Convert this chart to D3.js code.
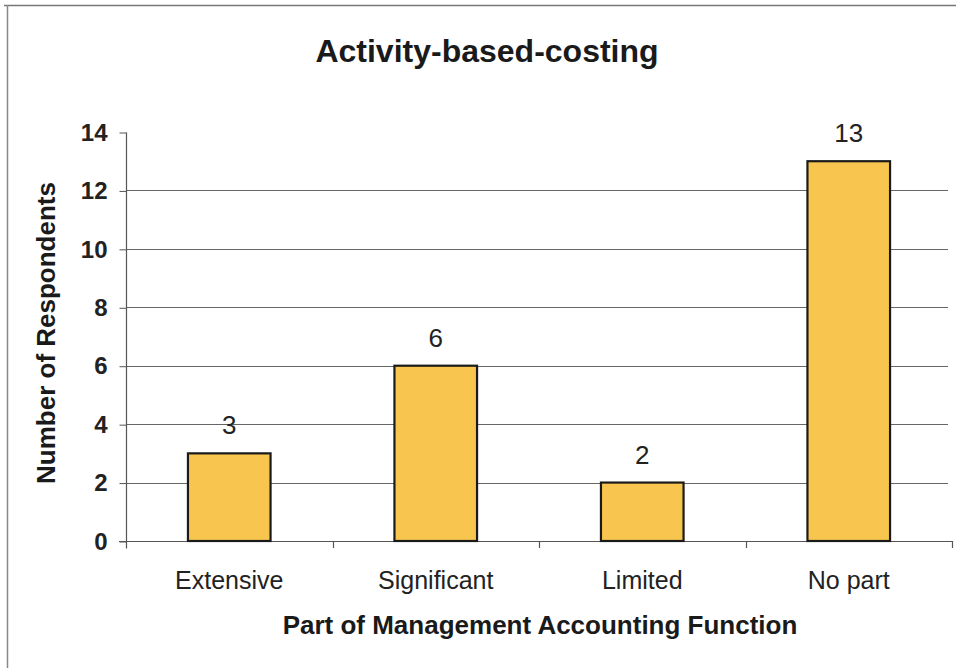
<!DOCTYPE html>
<html>
<head>
<meta charset="utf-8">
<script src="https://cdn.jsdelivr.net/npm/d3@7"></script>
<style>
  html, body { margin: 0; padding: 0; background: #fff; }
  svg { display: block; font-family: "Liberation Sans", Arial, sans-serif; }
</style>
</head>
<body>
<svg id="chart" width="963" height="668"></svg>
<script>
// Survey responses: role of activity-based costing
const categories = ["Extensive", "Significant", "Limited", "No part"];
const respondents = [3, 6, 2, 13];
const yTicks = [0, 2, 4, 6, 8, 10, 12, 14];
const gridValues = [2, 4, 6, 8, 10, 12];

const svg = d3.select("#chart");
const W = 963, H = 668;
const plot = { left: 126, right: 952, top: 132, bottom: 541 };

// frame (top and left edges)
svg.append("line").attr("x1", 4).attr("x2", 956).attr("y1", 5.5).attr("y2", 5.5)
  .attr("stroke", "#777").attr("stroke-width", 1.5);
svg.append("line").attr("x1", 7.5).attr("x2", 7.5).attr("y1", 5).attr("y2", H)
  .attr("stroke", "#888").attr("stroke-width", 1.5);

const x = d3.scaleBand().domain(categories).range([plot.left, plot.right])
  .paddingInner(0.6).paddingOuter(0.3);
const xEdge = d3.scaleLinear().domain([0, categories.length]).range([plot.left, plot.right]);
const y = d3.scaleLinear().domain([0, 14]).range([plot.bottom, plot.top]);

// horizontal gridlines
svg.append("g").selectAll("line").data(gridValues).join("line")
  .attr("x1", plot.left).attr("x2", plot.right - 4)
  .attr("y1", d => Math.round(y(d)) + 0.5).attr("y2", d => Math.round(y(d)) + 0.5)
  .attr("stroke", "#666").attr("stroke-width", 1);

// y axis
const yAxis = d3.axisLeft(y).tickValues(yTicks).tickSize(7).tickPadding(12).tickFormat(d3.format("d"));
const gy = svg.append("g").attr("transform", `translate(${plot.left + 0.5},0.5)`).call(yAxis);
gy.select(".domain").attr("d", `M0,${plot.top}V${plot.bottom + 7}`).attr("stroke", "#555").attr("stroke-width", 1.2);
gy.selectAll(".tick line").attr("stroke", "#555");
gy.selectAll(".tick text").attr("font-size", 24).attr("font-weight", "bold")
  .attr("font-family", "Liberation Sans, Arial, sans-serif").attr("fill", "#222");

// x axis line with ticks at category boundaries
svg.append("line").attr("x1", plot.left - 7).attr("x2", plot.right)
  .attr("y1", plot.bottom + 0.5).attr("y2", plot.bottom + 0.5)
  .attr("stroke", "#555").attr("stroke-width", 1.2);
svg.append("g").selectAll("line").data(d3.range(1, categories.length + 1)).join("line")
  .attr("x1", d => Math.round(xEdge(d)) + 0.5).attr("x2", d => Math.round(xEdge(d)) + 0.5)
  .attr("y1", plot.bottom).attr("y2", plot.bottom + 7)
  .attr("stroke", "#555").attr("stroke-width", 1.2);

// category labels
svg.append("g").selectAll("text").data(categories).join("text")
  .attr("x", d => x(d) + x.bandwidth() / 2).attr("y", 589)
  .attr("text-anchor", "middle").attr("font-size", 25).attr("fill", "#222")
  .text(d => d);

// bars
svg.append("g").selectAll("rect").data(respondents).join("rect")
  .attr("x", (d, i) => x(categories[i])).attr("width", x.bandwidth())
  .attr("y", d => y(d)).attr("height", d => y(0) - y(d))
  .attr("fill", "#F8C64E").attr("stroke", "#1a1a1a").attr("stroke-width", 2.2);

// value labels
svg.append("g").selectAll("text").data(respondents).join("text")
  .attr("x", (d, i) => x(categories[i]) + x.bandwidth() / 2)
  .attr("y", d => y(d) - 19)
  .attr("text-anchor", "middle").attr("font-size", 26).attr("fill", "#222")
  .text(d => d);

// titles
svg.append("text").attr("x", 487).attr("y", 62).attr("text-anchor", "middle")
  .attr("font-size", 32).attr("font-weight", "bold").attr("fill", "#1a1a1a")
  .text("Activity-based-costing");

svg.append("text").attr("x", 540).attr("y", 634).attr("text-anchor", "middle")
  .attr("font-size", 26).attr("font-weight", "bold").attr("fill", "#1a1a1a")
  .text("Part of Management Accounting Function");

svg.append("text").attr("transform", "translate(55,333) rotate(-90)")
  .attr("text-anchor", "middle").attr("font-size", 26).attr("font-weight", "bold").attr("fill", "#1a1a1a")
  .text("Number of Respondents");
</script>
</body>
</html>
